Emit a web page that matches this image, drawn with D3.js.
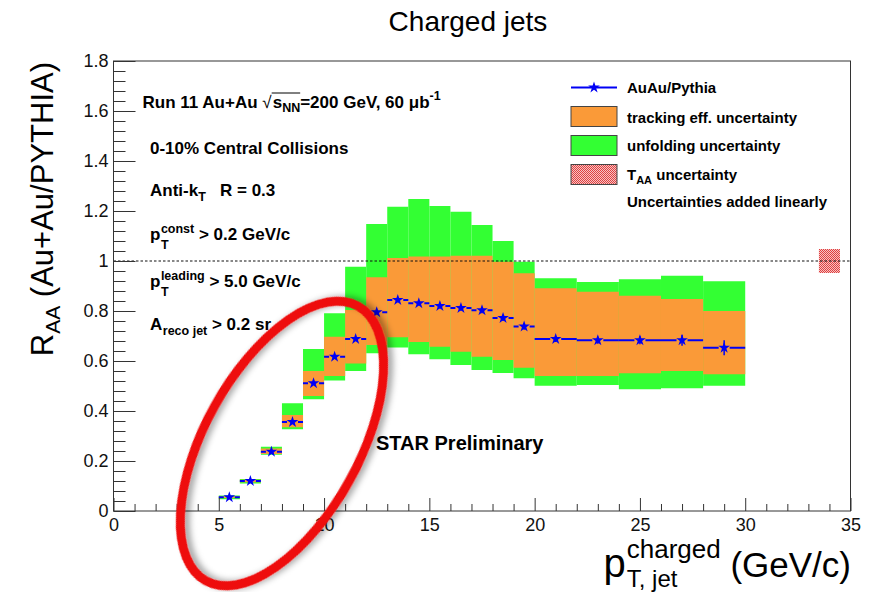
<!DOCTYPE html>
<html>
<head>
<meta charset="utf-8">
<script src="https://cdn.jsdelivr.net/npm/d3@7"></script>
<style>
  html, body { margin: 0; padding: 0; background: #fff; }
  svg { display: block; font-family: "Liberation Sans", Arial, Helvetica, sans-serif; }
  text { white-space: pre; }
</style>
</head>
<body>
<svg id="chart" width="875" height="592"></svg>
<script>
// Jet pT bins (GeV/c)
const binLo = [5, 6, 7, 8, 9, 10, 11, 12, 13, 14, 15, 16, 17, 18, 19, 20, 22, 24, 26, 28];
const binHi = [6, 7, 8, 9, 10, 11, 12, 13, 14, 15, 16, 17, 18, 19, 20, 22, 24, 26, 28, 30];
// R_AA central values and statistical errors
const raa     = [0.055, 0.120, 0.237, 0.356, 0.511, 0.617, 0.688, 0.795, 0.844, 0.831, 0.820, 0.812, 0.803, 0.772, 0.738, 0.688, 0.683, 0.683, 0.683, 0.653];
const statErr = [0.004, 0.004, 0.005, 0.006, 0.007, 0.008, 0.008, 0.008, 0.009, 0.009, 0.010, 0.011, 0.012, 0.012, 0.013, 0.012, 0.014, 0.016, 0.022, 0.030];
// Tracking-efficiency uncertainty band
const trkLo = [0.052, 0.115, 0.228, 0.335, 0.460, 0.540, 0.590, 0.664, 0.695, 0.676, 0.657, 0.637, 0.617, 0.604, 0.573, 0.540, 0.540, 0.551, 0.560, 0.547];
const trkHi = [0.058, 0.125, 0.250, 0.384, 0.560, 0.697, 0.804, 0.935, 1.012, 1.018, 1.018, 1.021, 1.021, 0.997, 0.951, 0.891, 0.877, 0.861, 0.848, 0.800];
// Tracking + unfolding uncertainty band (added linearly)
const totLo = [0.047, 0.110, 0.225, 0.327, 0.447, 0.522, 0.560, 0.631, 0.654, 0.627, 0.607, 0.584, 0.564, 0.552, 0.531, 0.501, 0.504, 0.487, 0.491, 0.501];
const totHi = [0.062, 0.128, 0.257, 0.431, 0.648, 0.791, 0.977, 1.148, 1.217, 1.248, 1.220, 1.197, 1.144, 1.080, 0.997, 0.931, 0.916, 0.927, 0.941, 0.919];
// T_AA normalisation uncertainty box
const taaX = [33.5, 34.5];
const taaCenter = 1.0;
const taaErr = 0.048;
// Axis ticks
const xMajor = [0, 5, 10, 15, 20, 25, 30, 35];
const xMinor = d3.range(0, 36, 1).filter(v => v % 5 !== 0);
const yMajor = [0, 0.2, 0.4, 0.6, 0.8, 1.0, 1.2, 1.4, 1.6, 1.8];
const yMinor = d3.range(0, 46).map(i => +(i * 0.04).toFixed(2)).filter(v => Math.abs(v / 0.2 - Math.round(v / 0.2)) > 1e-6);

const GREEN = "#33ff33", ORANGE = "#fa9a38", BLUE = "#0000f5", RED = "#ee1111";
const FONT = "'Liberation Sans', Arial, Helvetica, sans-serif";

const svg = d3.select("#chart");
const x = d3.scaleLinear().domain([0, 35]).range([113.5, 850.5]);
const y = d3.scaleLinear().domain([0, 1.8]).range([511, 61]);

const bins = binLo.map((lo, i) => ({
  lo, hi: binHi[i], v: raa[i], s: statErr[i],
  tl: trkLo[i], th: trkHi[i], ul: totLo[i], uh: totHi[i]
}));

// checker pattern for the T_AA box
const defs = svg.append("defs");
const pat = defs.append("pattern").attr("id", "taaHatch")
  .attr("width", 2).attr("height", 2).attr("patternUnits", "userSpaceOnUse");
pat.append("rect").attr("width", 2).attr("height", 2).attr("fill", "#f6c4c4");
pat.append("rect").attr("width", 1).attr("height", 1).attr("fill", "#e04040");
pat.append("rect").attr("x", 1).attr("y", 1).attr("width", 1).attr("height", 1).attr("fill", "#e04040");

const shadow = defs.append("filter").attr("id", "softShadow")
  .attr("x", "-20%").attr("y", "-20%").attr("width", "140%").attr("height", "140%");
shadow.append("feDropShadow").attr("dx", 3).attr("dy", 4).attr("stdDeviation", 3)
  .attr("flood-color", "#000").attr("flood-opacity", 0.35);

// uncertainty bands
svg.append("g").selectAll("rect").data(bins).join("rect")
  .attr("x", d => x(d.lo)).attr("width", d => x(d.hi) - x(d.lo))
  .attr("y", d => y(d.uh)).attr("height", d => y(d.ul) - y(d.uh))
  .attr("fill", GREEN);
svg.append("g").selectAll("rect").data(bins).join("rect")
  .attr("x", d => x(d.lo)).attr("width", d => x(d.hi) - x(d.lo))
  .attr("y", d => y(d.th)).attr("height", d => y(d.tl) - y(d.th))
  .attr("fill", ORANGE);

// T_AA box
svg.append("rect")
  .attr("x", x(taaX[0])).attr("width", x(taaX[1]) - x(taaX[0]))
  .attr("y", y(taaCenter + taaErr)).attr("height", y(taaCenter - taaErr) - y(taaCenter + taaErr))
  .attr("fill", "url(#taaHatch)");

// unity reference line
svg.append("line")
  .attr("x1", x(0)).attr("x2", x(35)).attr("y1", y(1)).attr("y2", y(1))
  .attr("stroke", "#111").attr("stroke-width", 1.2).attr("stroke-dasharray", "2.5,2");

// data points: horizontal bin-width bars, stat errors, star markers
const gap = 5.5;
const pts = svg.append("g");
bins.forEach(d => {
  const cx = x((d.lo + d.hi) / 2), cy = y(d.v);
  pts.append("line").attr("x1", x(d.lo)).attr("x2", cx - gap).attr("y1", cy).attr("y2", cy)
    .attr("stroke", BLUE).attr("stroke-width", 2);
  pts.append("line").attr("x1", cx + gap).attr("x2", x(d.hi)).attr("y1", cy).attr("y2", cy)
    .attr("stroke", BLUE).attr("stroke-width", 2);
  pts.append("line").attr("x1", cx).attr("x2", cx).attr("y1", y(d.v + d.s)).attr("y2", y(d.v - d.s))
    .attr("stroke", BLUE).attr("stroke-width", 1.5);
});
const star = d3.symbol().type(d3.symbolStar).size(42);
pts.selectAll("path").data(bins).join("path")
  .attr("d", star)
  .attr("transform", d => `translate(${x((d.lo + d.hi) / 2)},${y(d.v)})`)
  .attr("fill", BLUE);

// frame and axes
svg.append("rect").attr("x", x(0)).attr("y", y(1.8))
  .attr("width", x(35) - x(0)).attr("height", y(0) - y(1.8))
  .attr("fill", "none").attr("stroke", "#333").attr("stroke-width", 1);

function styleAxis(g) {
  g.attr("font-family", FONT).attr("font-size", 18);
  g.select(".domain").remove();
  g.selectAll(".tick line").attr("stroke", "#333");
  g.selectAll(".tick text").attr("fill", "#111");
}
svg.append("g").attr("transform", `translate(0,${y(0)})`)
  .call(d3.axisBottom(x).tickValues(xMajor).tickSize(-13).tickSizeOuter(0).tickPadding(7).tickFormat(d3.format("d")))
  .call(styleAxis);
svg.append("g").attr("transform", `translate(0,${y(0)})`)
  .call(d3.axisBottom(x).tickValues(xMinor).tickSize(-7).tickSizeOuter(0).tickFormat(""))
  .call(styleAxis);
svg.append("g").attr("transform", `translate(${x(0)},0)`)
  .call(d3.axisLeft(y).tickValues(yMajor).tickSize(-22).tickSizeOuter(0).tickPadding(5).tickFormat(d3.format("~g")))
  .call(styleAxis);
svg.append("g").attr("transform", `translate(${x(0)},0)`)
  .call(d3.axisLeft(y).tickValues(yMinor).tickSize(-12).tickSizeOuter(0).tickFormat(""))
  .call(styleAxis);

// rich text: runs laid out left to right, "stack" puts a superscript over a subscript
function rich(parent, x0, y0, runs, base) {
  const g = parent.append("g");
  let cx = x0;
  const marks = [];
  runs.forEach(r => {
    const items = r.stack ? r.stack : [r];
    let w = 0;
    items.forEach(it => {
      const t = g.append("text")
        .attr("x", cx).attr("y", y0 + (it.dy || 0))
        .attr("font-family", FONT)
        .attr("font-size", it.size || base.size)
        .attr("font-weight", it.weight || base.weight || "normal")
        .attr("fill", "#000")
        .text(it.t);
      const tw = t.node().getComputedTextLength();
      marks.push({ id: it.id, x: cx, w: tw });
      w = Math.max(w, tw);
    });
    cx += w + (r.gap || 0);
  });
  return { g, width: cx - x0, marks };
}

// title
svg.append("text").attr("x", 468).attr("y", 31).attr("text-anchor", "middle")
  .attr("font-family", FONT).attr("font-size", 28).text("Charged jets");

// y-axis title (rotated, ends at the top of the axis)
{
  const g = svg.append("g");
  const r = rich(g, 0, 0, [
    { t: "R", size: 31 },
    { t: "AA", size: 21, dy: 7 },
    { t: " (Au+Au/PYTHIA)", size: 31 }
  ], { size: 31 });
  g.attr("transform", `translate(53,${62 + r.width}) rotate(-90)`);
}

// x-axis title (right-aligned with the axis end)
{
  const g = svg.append("g");
  const r = rich(g, 0, 577, [
    { t: "p", size: 40, gap: 1 },
    { stack: [{ t: "charged", size: 26, dy: -19 }, { t: "T, jet", size: 24, dy: 10 }] },
    { t: " (GeV/c)", size: 35 }
  ], { size: 35 });
  g.attr("transform", `translate(${851 - r.width},0)`);
}

// analysis description
const B = { size: 17, weight: "bold" };
{
  const r = rich(svg, 142.5, 107.5, [
    { t: "Run 11 Au+Au " },
    { t: "√", weight: "normal", size: 17, gap: 1 },
    { t: "s", id: "s" },
    { t: "NN", size: 12.5, dy: 4, id: "nn" },
    { t: "=200 GeV, 60 μb" },
    { t: "-1", size: 12.5, dy: -8 }
  ], B);
  const s = r.marks.find(m => m.id === "s"), nn = r.marks.find(m => m.id === "nn");
  r.g.append("line").attr("x1", s.x - 1).attr("x2", nn.x + nn.w)
    .attr("y1", 107.5 - 14.5).attr("y2", 107.5 - 14.5)
    .attr("stroke", "#000").attr("stroke-width", 1);
}
rich(svg, 150, 153.5, [{ t: "0-10% Central Collisions" }], B);
rich(svg, 150, 196, [{ t: "Anti-k" }, { t: "T", size: 12.5, dy: 5 }, { t: "   R = 0.3" }], B);
rich(svg, 150, 240, [
  { t: "p", gap: 0.5 },
  { stack: [{ t: "const", size: 12.5, dy: -7 }, { t: "T", size: 12.5, dy: 9 }] },
  { t: " > 0.2 GeV/c" }
], B);
rich(svg, 150, 287, [
  { t: "p", gap: 0.5 },
  { stack: [{ t: "leading", size: 12.5, dy: -7 }, { t: "T", size: 12.5, dy: 9 }] },
  { t: " > 5.0 GeV/c" }
], B);
rich(svg, 150, 329.5, [{ t: "A", gap: 0.5 }, { t: "reco jet", size: 12.5, dy: 5 }, { t: " > 0.2 sr" }], B);

svg.append("text").attr("x", 376).attr("y", 450)
  .attr("font-family", FONT).attr("font-size", 20).attr("font-weight", "bold")
  .text("STAR Preliminary");

// legend
{
  const lg = svg.append("g");
  const bx = 571, bw = 46, tx = 627;
  lg.append("line").attr("x1", bx).attr("x2", bx + bw).attr("y1", 87.5).attr("y2", 87.5)
    .attr("stroke", BLUE).attr("stroke-width", 2);
  lg.append("path").attr("d", star).attr("transform", `translate(${bx + bw / 2},87.5)`).attr("fill", BLUE);
  const boxes = [
    { y: 106.5, fill: ORANGE }, { y: 135.5, fill: GREEN }, { y: 164.5, fill: "url(#taaHatch)" }
  ];
  boxes.forEach(b => lg.append("rect").attr("x", bx).attr("y", b.y).attr("width", bw).attr("height", 20)
    .attr("fill", b.fill).attr("stroke", "#444").attr("stroke-width", 1));
  const L = { size: 15, weight: "bold" };
  rich(lg, tx, 93.3, [{ t: "AuAu/Pythia" }], L);
  rich(lg, tx, 122.5, [{ t: "tracking eff. uncertainty" }], L);
  rich(lg, tx, 151, [{ t: "unfolding uncertainty" }], L);
  rich(lg, tx, 179.5, [{ t: "T" }, { t: "AA", size: 11, dy: 4 }, { t: " uncertainty" }], L);
  rich(lg, tx, 207, [{ t: "Uncertainties added linearly" }], L);
}

// highlight ellipse around the low-pT points
{
  const c = [x(8.0), y(0.27)];
  svg.append("ellipse")
    .attr("cx", 0).attr("cy", 0).attr("rx", 157).attr("ry", 77)
    .attr("transform", `translate(${c[0]},${c[1]}) rotate(-61)`)
    .attr("fill", "none").attr("stroke", RED).attr("stroke-width", 9)
    .attr("filter", "url(#softShadow)");
}
</script>
</body>
</html>
